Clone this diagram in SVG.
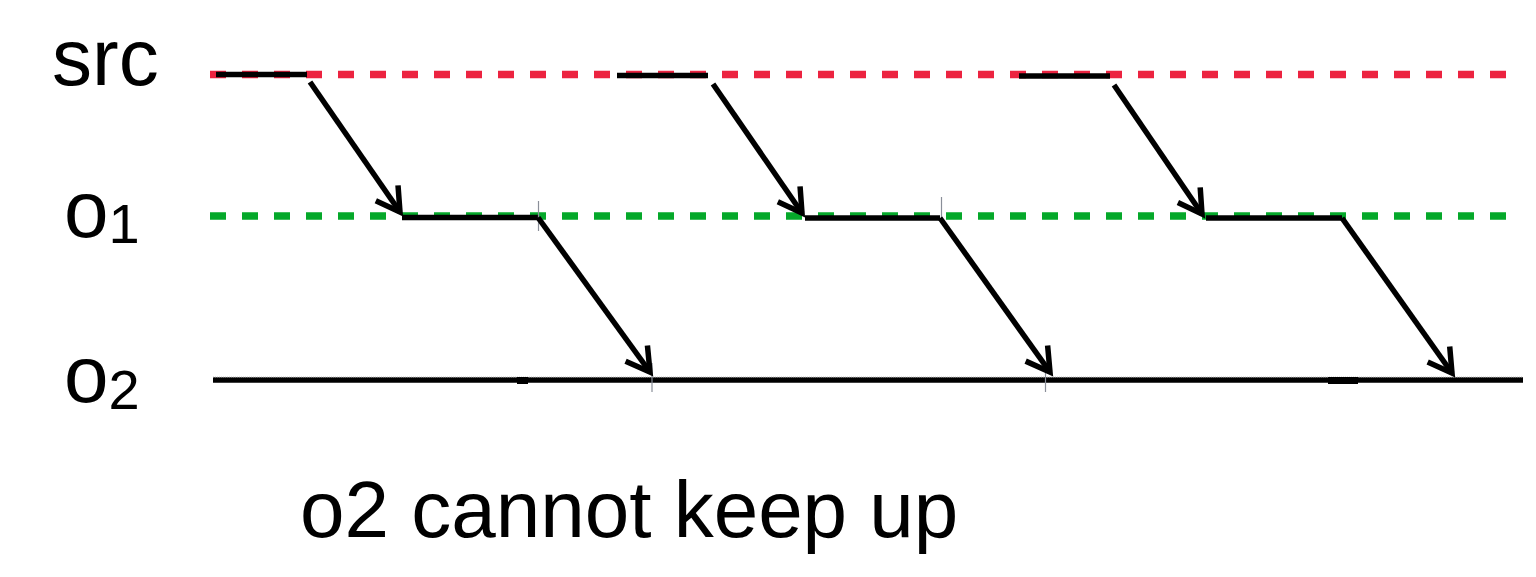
<svg xmlns="http://www.w3.org/2000/svg" width="1536" height="577" viewBox="0 0 1536 577">
<style>
.lbl{font-family:"Liberation Sans",Arial,Helvetica,sans-serif;fill:#000;}
.dash{stroke-width:7.5;stroke-dasharray:16 16;fill:none;}
.seg{stroke:#000;stroke-width:5.5;fill:none;}
.arr{stroke:#000;stroke-width:5.5;fill:none;marker-end:url(#ah);}
.tick{stroke:#8a8f99;stroke-width:1.2;}
</style>
<defs>
<marker id="ah" markerUnits="userSpaceOnUse" markerWidth="40" markerHeight="40" viewBox="-30 -20 40 40" refX="0" refY="0" orient="auto" overflow="visible">
<path d="M-23,-13.5 L0,0 L-23,13.5" fill="none" stroke="#000" stroke-width="5.5" stroke-linecap="butt" stroke-linejoin="miter"/>
</marker>
</defs>
<rect width="1536" height="577" fill="#fff"/>
<g id="lane-src">
<line class="dash" x1="210" y1="74.5" x2="1506" y2="74.5" stroke="#EC2340"/>
<text class="lbl" x="52" y="85" font-size="80">src</text>
</g>
<g id="lane-o1">
<line class="dash" x1="210" y1="216" x2="1506" y2="216" stroke="#05A82A"/>
<text class="lbl" x="64" y="237" font-size="80">o<tspan font-size="56" dy="6">1</tspan></text>
</g>
<g id="lane-o2">
<line x1="213" y1="380" x2="1523" y2="380" stroke="#000" stroke-width="5.5"/>
<line x1="213" y1="377" x2="1523" y2="377" stroke="#b0b0b0" stroke-width="0.8" stroke-dasharray="1 1"/>
<rect x="517" y="377" width="11" height="7" fill="#000"/>
<rect x="1328" y="377" width="30" height="7" fill="#000"/>
<text class="lbl" x="64" y="402" font-size="80">o<tspan font-size="56" dy="7">2</tspan></text>
</g>
<g id="busy-src">
<line class="seg" x1="216" y1="74.5" x2="307" y2="74.5"/>
<line class="seg" x1="617" y1="75.5" x2="708" y2="75.5"/>
<line class="seg" x1="1019" y1="76" x2="1110" y2="76"/>
</g>
<g id="busy-o1">
<line class="seg" x1="402" y1="217.5" x2="538" y2="217.5"/>
<line class="seg" x1="805" y1="218" x2="940" y2="218"/>
<line class="seg" x1="1206" y1="218" x2="1342" y2="218"/>
</g>
<g id="ticks">
<line class="tick" x1="538.5" y1="201" x2="538.5" y2="231"/>
<line class="tick" x1="652" y1="363" x2="652" y2="392"/>
<line class="tick" x1="941.5" y1="197" x2="941.5" y2="220"/>
<line class="tick" x1="1045.5" y1="363" x2="1045.5" y2="392"/>
</g>
<g id="connectors">
<line class="arr" x1="310" y1="82" x2="400" y2="212"/>
<line class="arr" x1="713" y1="84" x2="802" y2="213"/>
<line class="arr" x1="1114" y1="85" x2="1202" y2="214"/>
<line class="arr" x1="538" y1="217.5" x2="650" y2="372"/>
<line class="arr" x1="940" y1="218" x2="1050" y2="372"/>
<line class="arr" x1="1342" y1="218" x2="1452" y2="373"/>
</g>
<g id="caption">
<text class="lbl" x="300" y="537" font-size="80">o2 cannot keep up</text>
</g>
</svg>
